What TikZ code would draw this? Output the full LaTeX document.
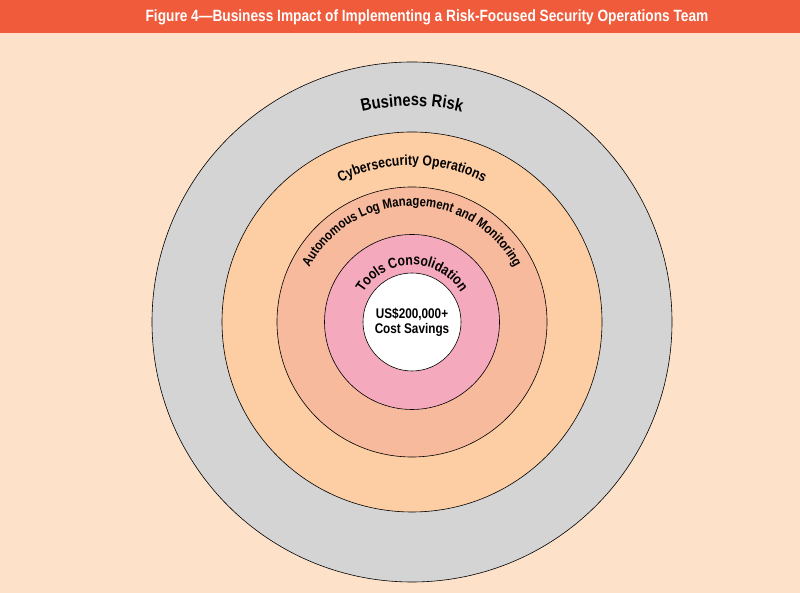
\documentclass[tikz,border=0pt]{standalone}
\usepackage{fontspec}
\setmainfont{Liberation Sans}[FakeStretch=0.84]
\usetikzlibrary{decorations.text}
\definecolor{titlebar}{HTML}{EF5B3B}
\definecolor{bgpeach}{HTML}{FDE1C9}
\definecolor{ringA}{HTML}{D4D4D4}
\definecolor{ringB}{HTML}{FDCEA4}
\definecolor{ringC}{HTML}{F8BA9C}
\definecolor{ringD}{HTML}{F4A9BD}
\tikzset{ring/.style={draw=black,line width=0.6pt},
arctext/.style={decorate,decoration={text along path,text align=center,text={#1}}}}
\begin{document}
\begin{tikzpicture}[x=1pt,y=1pt]
\useasboundingbox (0,0) rectangle (800,593);
\fill[bgpeach] (0,0) rectangle (800,593);
\fill[titlebar] (0,560) rectangle (800,593);
\node[text=white,font=\bfseries\fontsize{16.3}{18}\selectfont] (title) at (427,576) {Figure 4—Business Impact of Implementing a Risk-Focused Security Operations Team};
\coordinate (c) at (412,271);
\node[ring,circle,fill=ringA,minimum size=520pt] (r1) at (c) {};
\node[ring,circle,fill=ringB,minimum size=380pt] (r2) at (c) {};
\node[ring,circle,fill=ringC,minimum size=270pt] (r3) at (c) {};
\node[ring,circle,fill=ringD,minimum size=175pt] (r4) at (c) {};
\node[ring,circle,fill=white,minimum size=98pt,align=center,font=\bfseries\fontsize{14}{15}\selectfont] (r5) at (c) {US\$200,000+\\Cost Savings};
\path[arctext={|\bfseries\fontsize{17.5}{18}\selectfont|Business Risk}] (c) ++(160:216) arc[start angle=160,end angle=20,radius=216];
\path[arctext={|\bfseries\fontsize{14.5}{15}\selectfont|Cybersecurity Operations}] (c) ++(150:157) arc[start angle=150,end angle=30,radius=157];
\path[arctext={|\bfseries\fontsize{13.5}{15}\selectfont|Autonomous Log Management and Monitoring}] (c) ++(200:116) arc[start angle=200,end angle=-20,radius=116];
\path[arctext={|\bfseries\fontsize{14.5}{15}\selectfont|Tools Consolidation}] (c) ++(170:57) arc[start angle=170,end angle=10,radius=57];
\end{tikzpicture}
\end{document}
